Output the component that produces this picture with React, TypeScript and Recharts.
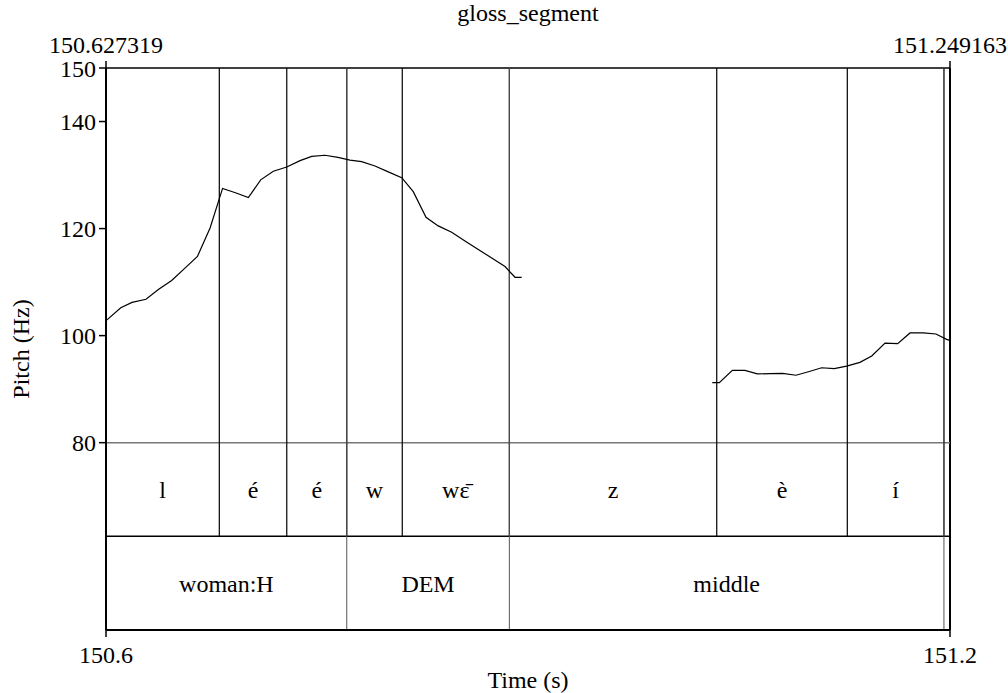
import React from 'react';
import { ComposedChart, Line, XAxis, YAxis, ReferenceLine, ReferenceArea } from 'recharts';

const T_START = 150.627319;
const T_END = 151.249163;

// Pitch contour, first voiced stretch
const pitchTimes1 = [
  150.6278, 150.6382, 150.6465, 150.6568, 150.6659, 150.6757, 150.6855, 150.6947,
  150.704, 150.7132, 150.7227, 150.7322, 150.7413, 150.7506, 150.7605, 150.7703,
  150.7789, 150.7887, 150.7982, 150.8071, 150.8157, 150.8255, 150.8353, 150.8452,
  150.8537, 150.8631, 150.8721, 150.882, 150.8918, 150.9016, 150.9115, 150.9213,
  150.9287, 150.9336,
];
const pitchValues1 = [
  102.9, 105.2, 106.2, 106.8, 108.6, 110.3, 112.6, 114.8,
  120.1, 127.5, 126.7, 125.8, 129.1, 130.7, 131.5, 132.7,
  133.5, 133.7, 133.3, 132.8, 132.5, 131.7, 130.6, 129.5,
  126.9, 122.1, 120.5, 119.3, 117.7, 116.1, 114.5, 112.9,
  110.9, 110.9,
];
// Pitch contour, second voiced stretch
const pitchTimes2 = [
  151.074, 151.0792, 151.0888, 151.0981, 151.1072, 151.1165, 151.1258, 151.1357,
  151.1455, 151.1546, 151.1639, 151.173, 151.1828, 151.1915, 151.2013, 151.2106,
  151.2197, 151.2295, 151.2388, 151.2467, 151.249,
];
const pitchValues2 = [
  91.2, 91.2, 93.5, 93.5, 92.85, 92.9, 92.95, 92.6,
  93.3, 94.0, 93.85, 94.3, 95.0, 96.2, 98.6, 98.5,
  100.5, 100.5, 100.3, 99.3, 99.1,
];

// TextGrid tiers
const tier1Bounds = [150.627319, 150.7108, 150.7605, 150.8047, 150.8456, 150.9245, 151.0773, 151.1735, 151.2447, 151.249163];
const tier1Labels = ['l', 'é', 'é', 'w', 'wɛ̄', 'z', 'è', 'í', ''];
const tier2Bounds = [150.627319, 150.8047, 150.9245, 151.2447, 151.249163];
const tier2Labels = ['woman:H', 'DEM', 'middle', ''];

const yTicks = [80, 100, 120, 140, 150];
const xEndTicks = [T_START, T_END];
const topTickLabels = ['150.627319', '151.249163'];

const Y_MIN = 45; // bottom of tier 2
const Y_TIER = 62.5; // boundary between tiers
const Y_PITCH_MIN = 80;
const Y_MAX = 150;
const Y_TOPTICK = 151.3;

const FONT = "'Liberation Serif', 'DejaVu Serif', 'Noto Serif', Tinos, 'Times New Roman', Times, serif";
const FS = 24;

const data = [
  ...pitchTimes1.map((t, i) => ({ t, f: pitchValues1[i] as number | null })),
  { t: 151.0, f: null },
  ...pitchTimes2.map((t, i) => ({ t, f: pitchValues2[i] as number | null })),
];

const tickStyle = { fill: '#000', fontSize: FS, fontFamily: FONT, style: { fontFamily: FONT } };
const txtStyle = { fontFamily: FONT, fontSize: FS };

export default function App() {
  return (
    <div style={{ position: 'absolute', left: 0, top: 0, fontFamily: FONT }}>
      <ComposedChart
        width={1008}
        height={693}
        data={data}
        margin={{ top: 68, right: 58, bottom: 0, left: 0 }}
        style={{ fontFamily: FONT }}
      >
        <XAxis
          dataKey="t"
          type="number"
          domain={[T_START, T_END]}
          allowDataOverflow
          ticks={xEndTicks}
          interval={0}
          tickFormatter={(v: number) => v.toFixed(1)}
          height={63}
          axisLine={{ stroke: '#000', strokeWidth: 2 }}
          tickLine={{ stroke: '#000', strokeWidth: 1.5 }}
          tickSize={7}
          tickMargin={9}
          tick={tickStyle}
        />
        <YAxis
          type="number"
          domain={[Y_MIN, Y_MAX]}
          allowDataOverflow
          ticks={yTicks}
          interval={0}
          width={106}
          axisLine={{ stroke: '#000', strokeWidth: 2 }}
          tickLine={{ stroke: '#000', strokeWidth: 1.5 }}
          tickSize={7}
          tickMargin={3}
          tick={tickStyle}
        />

        {/* frame: top and right */}
        <ReferenceLine y={Y_MAX} stroke="#000" strokeWidth={1.5} ifOverflow="visible" />
        <ReferenceLine x={T_END} stroke="#000" strokeWidth={2} ifOverflow="visible" />
        {/* top end ticks with exact times */}
        {xEndTicks.map((t, i) => (
          <ReferenceLine
            key={`tt-${i}`}
            segment={[{ x: t, y: Y_MAX }, { x: t, y: Y_TOPTICK }]}
            stroke="#000"
            strokeWidth={1.5}
            ifOverflow="visible"
            label={{ value: topTickLabels[i], position: 'top', offset: 8, fill: '#000', fontSize: FS, fontFamily: FONT, style: txtStyle }}
          />
        ))}
        {/* tier separators */}
        <ReferenceLine y={Y_PITCH_MIN} stroke="#777" strokeWidth={1.5} />
        <ReferenceLine y={Y_TIER} stroke="#000" strokeWidth={1.5} />

        {/* tier 1 boundaries (through pitch area) */}
        {tier1Bounds.slice(1, -1).map((b, i) => (
          <ReferenceLine
            key={`b1-${i}`}
            segment={[{ x: b, y: Y_TIER }, { x: b, y: Y_MAX }]}
            stroke="#000"
            strokeWidth={1.2}
          />
        ))}
        {/* tier 2 boundaries */}
        {tier2Bounds.slice(1, -1).map((b, i) => (
          <ReferenceLine
            key={`b2-${i}`}
            segment={[{ x: b, y: Y_MIN }, { x: b, y: Y_MAX }]}
            stroke="#555"
            strokeWidth={1}
          />
        ))}

        {/* interval labels */}
        {tier1Labels.map((lab, i) =>
          lab ? (
            <ReferenceArea
              key={`l1-${i}`}
              x1={tier1Bounds[i]}
              x2={tier1Bounds[i + 1]}
              y1={Y_TIER}
              y2={Y_PITCH_MIN}
              fill="none"
              fillOpacity={0}
              stroke="none"
              label={{ value: lab, position: 'center', fill: '#000', fontSize: FS, fontFamily: FONT, style: txtStyle }}
            />
          ) : null
        )}
        {tier2Labels.map((lab, i) =>
          lab ? (
            <ReferenceArea
              key={`l2-${i}`}
              x1={tier2Bounds[i]}
              x2={tier2Bounds[i + 1]}
              y1={Y_MIN}
              y2={Y_TIER}
              fill="none"
              fillOpacity={0}
              stroke="none"
              label={{ value: lab, position: 'center', fill: '#000', fontSize: FS, fontFamily: FONT, style: txtStyle }}
            />
          ) : null
        )}

        <Line
          dataKey="f"
          type="linear"
          stroke="#000"
          strokeWidth={1.2}
          dot={false}
          activeDot={false}
          connectNulls={false}
          isAnimationActive={false}
        />

        <text x={528} y={21} textAnchor="middle" fill="#000" style={txtStyle}>
          gloss_segment
        </text>
        <text x={528} y={688} textAnchor="middle" fill="#000" style={txtStyle}>
          Time (s)
        </text>
        <text
          x={28.5}
          y={349}
          textAnchor="middle"
          fill="#000"
          style={txtStyle}
          transform="rotate(-90, 28.5, 349)"
        >
          Pitch (Hz)
        </text>
      </ComposedChart>
    </div>
  );
}
